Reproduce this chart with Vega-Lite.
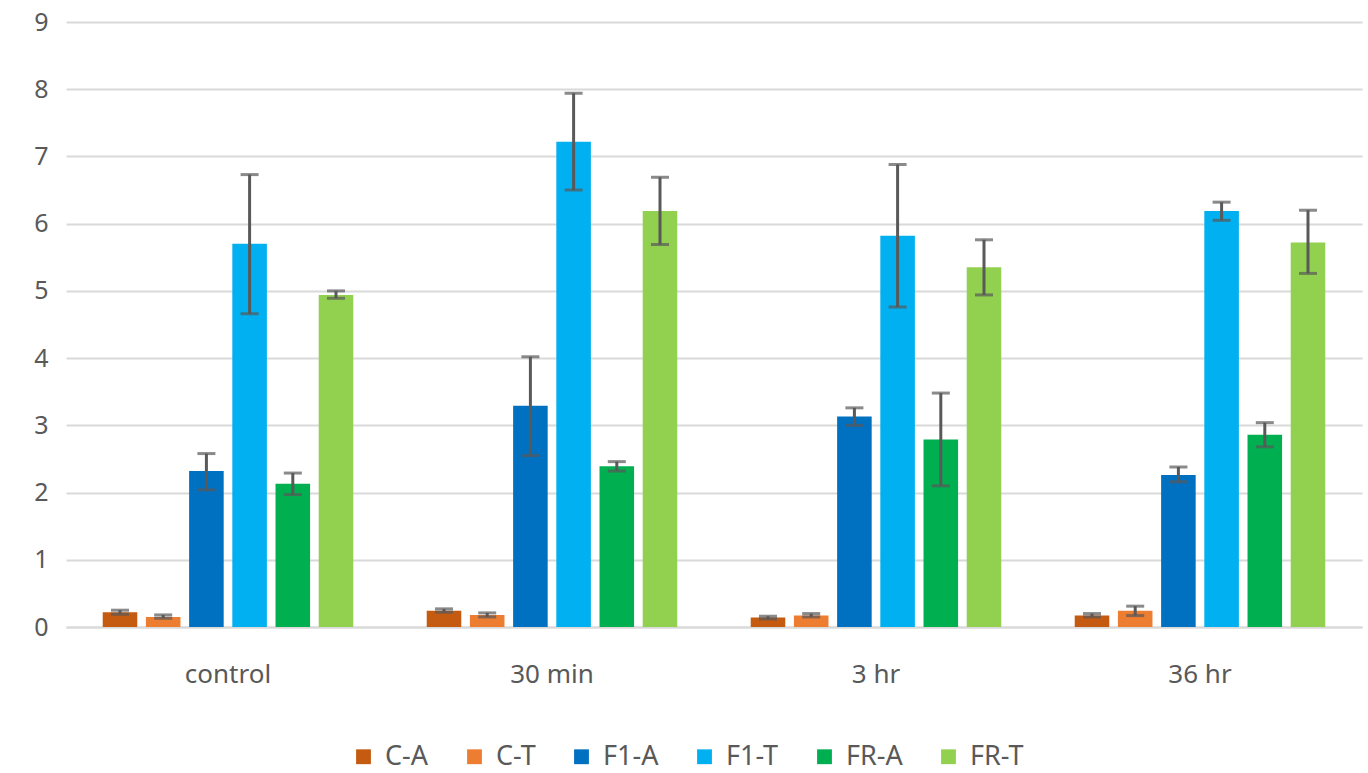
{
  "$schema": "https://vega.github.io/schema/vega-lite/v6.json",
  "width": 1296,
  "height": 605,
  "autosize": {"type": "none"},
  "padding": {"left": 66, "top": 22, "right": 6, "bottom": 146},
  "background": "white",
  "config": {
    "font": "Noto Sans",
    "view": {"stroke": null},
    "axis": {"labelColor": "#595959", "labelFontSize": 25, "labelFont": "Noto Sans"}
  },
  "data": {
    "values": [
      {"group": "control", "series": "C-A", "value": 0.22, "lo": 0.19, "hi": 0.25},
      {"group": "control", "series": "C-T", "value": 0.15, "lo": 0.13, "hi": 0.18},
      {"group": "control", "series": "F1-A", "value": 2.32, "lo": 2.04, "hi": 2.58},
      {"group": "control", "series": "F1-T", "value": 5.7, "lo": 4.66, "hi": 6.73},
      {"group": "control", "series": "FR-A", "value": 2.13, "lo": 1.97, "hi": 2.29},
      {"group": "control", "series": "FR-T", "value": 4.94, "lo": 4.89, "hi": 5.0},
      {"group": "30 min", "series": "C-A", "value": 0.24, "lo": 0.22, "hi": 0.27},
      {"group": "30 min", "series": "C-T", "value": 0.18, "lo": 0.15, "hi": 0.21},
      {"group": "30 min", "series": "F1-A", "value": 3.29, "lo": 2.55, "hi": 4.02},
      {"group": "30 min", "series": "F1-T", "value": 7.22, "lo": 6.5, "hi": 7.94},
      {"group": "30 min", "series": "FR-A", "value": 2.39, "lo": 2.32, "hi": 2.46},
      {"group": "30 min", "series": "FR-T", "value": 6.19, "lo": 5.69, "hi": 6.69},
      {"group": "3 hr", "series": "C-A", "value": 0.14, "lo": 0.12, "hi": 0.16},
      {"group": "3 hr", "series": "C-T", "value": 0.17, "lo": 0.15, "hi": 0.2},
      {"group": "3 hr", "series": "F1-A", "value": 3.13, "lo": 3.0, "hi": 3.26},
      {"group": "3 hr", "series": "F1-T", "value": 5.82, "lo": 4.76, "hi": 6.88},
      {"group": "3 hr", "series": "FR-A", "value": 2.79, "lo": 2.1, "hi": 3.48},
      {"group": "3 hr", "series": "FR-T", "value": 5.35, "lo": 4.94, "hi": 5.76},
      {"group": "36 hr", "series": "C-A", "value": 0.17, "lo": 0.15, "hi": 0.2},
      {"group": "36 hr", "series": "C-T", "value": 0.24, "lo": 0.17, "hi": 0.31},
      {"group": "36 hr", "series": "F1-A", "value": 2.26, "lo": 2.16, "hi": 2.38},
      {"group": "36 hr", "series": "F1-T", "value": 6.19, "lo": 6.05, "hi": 6.32},
      {"group": "36 hr", "series": "FR-A", "value": 2.86, "lo": 2.68, "hi": 3.04},
      {"group": "36 hr", "series": "FR-T", "value": 5.72, "lo": 5.26, "hi": 6.2}
    ]
  },
  "encoding": {
    "x": {
      "field": "group", "type": "nominal",
      "sort": ["control", "30 min", "3 hr", "36 hr"],
      "scale": {"paddingInner": 0.2, "paddingOuter": 0.1},
      "axis": {"title": null, "labelAngle": 0, "ticks": false, "labelPadding": 34, "domainColor": "#d9d9d9", "domainWidth": 2, "labelFontSize": 26}
    },
    "xOffset": {
      "field": "series", "type": "nominal",
      "sort": ["C-A", "C-T", "F1-A", "F1-T", "FR-A", "FR-T"],
      "scale": {"paddingInner": 0.2, "paddingOuter": 0.1}
    }
  },
  "layer": [
    {
      "mark": {"type": "bar"},
      "encoding": {
        "y": {
          "field": "value", "type": "quantitative",
          "scale": {"domain": [0, 9], "nice": false},
          "axis": {"title": null, "values": [0,1,2,3,4,5,6,7,8,9], "format": "d", "labelAlign": "center", "grid": true, "gridColor": "#d9d9d9", "gridWidth": 2, "domain": false, "ticks": false, "labelPadding": 25}
        },
        "color": {
          "field": "series", "type": "nominal",
          "sort": ["C-A", "C-T", "F1-A", "F1-T", "FR-A", "FR-T"],
          "scale": {"domain": ["C-A", "C-T", "F1-A", "F1-T", "FR-A", "FR-T"], "range": ["#C55A11", "#ED7D31", "#0070C0", "#00B0F0", "#00B050", "#92D050"]},
          "legend": {
            "title": null, "orient": "none", "direction": "horizontal",
            "legendX": 284, "legendY": 721,
            "symbolType": "square", "symbolSize": 220, "symbolStrokeWidth": 0,
            "labelFontSize": 27, "labelColor": "#595959", "columnPadding": 32, "labelOffset": 8
          }
        }
      }
    },
    {
      "mark": {"type": "rule", "color": "#595959", "strokeWidth": 3},
      "encoding": {
        "y": {"field": "lo", "type": "quantitative"},
        "y2": {"field": "hi"}
      }
    },
    {
      "mark": {"type": "tick", "color": "#595959", "thickness": 3, "size": 18},
      "encoding": {"y": {"field": "lo", "type": "quantitative"}}
    },
    {
      "mark": {"type": "tick", "color": "#595959", "thickness": 3, "size": 18},
      "encoding": {"y": {"field": "hi", "type": "quantitative"}}
    }
  ]
}
